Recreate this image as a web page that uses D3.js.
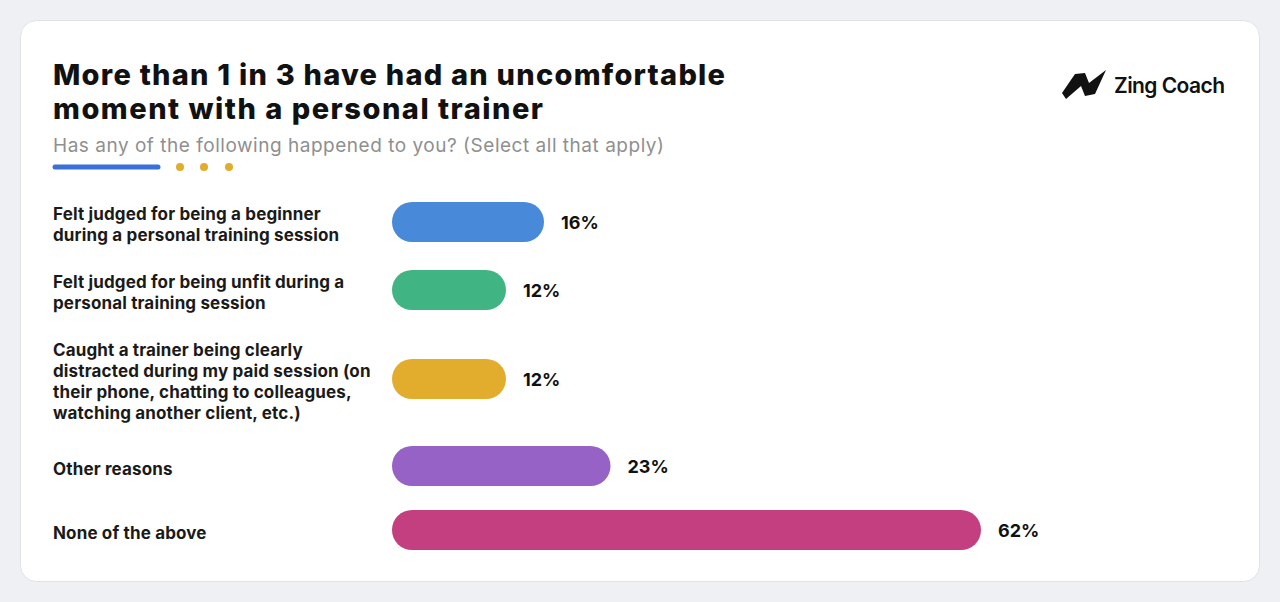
<!DOCTYPE html>
<html>
<head>
<meta charset="utf-8">
<script src="https://cdn.jsdelivr.net/npm/d3@7"></script>
<style>
  body { margin: 0; background: #eef0f4; font-family: Inter, "Noto Sans", sans-serif; }
</style>
</head>
<body>
<div id="chart"></div>
<script>
var categories = [
  ["Felt judged for being a beginner", "during a personal training session"],
  ["Felt judged for being unfit during a", "personal training session"],
  ["Caught a trainer being clearly", "distracted during my paid session (on", "their phone, chatting to colleagues,", "watching another client, etc.)"],
  ["Other reasons"],
  ["None of the above"]
];
var values = [16, 12, 12, 23, 62];
var colors = ["#4889d9", "#40b482", "#e2ac2d", "#9762c5", "#c43f80"];

var width = 1280,
    height = 602,
    barLeft = 392,
    barHeight = 40,
    lineHeight = 21;

var svg = d3.select('#chart').append('svg')
    .attr('width', width)
    .attr('height', height)
    .style('display', 'block');

// card
svg.append('rect')
    .attr('x', 20.5).attr('y', 20.5)
    .attr('width', 1239).attr('height', 561)
    .attr('rx', 16)
    .attr('fill', 'white')
    .attr('stroke', '#dfe2e8');

// title
svg.append('text')
    .attr('x', 53).attr('y', 85)
    .attr('font-size', 29).attr('font-weight', 800)
    .attr('fill', '#111')
    .attr('textLength', 672)
    .text('More than 1 in 3 have had an uncomfortable');
svg.append('text')
    .attr('x', 53).attr('y', 119)
    .attr('font-size', 29).attr('font-weight', 800)
    .attr('fill', '#111')
    .attr('textLength', 490)
    .text('moment with a personal trainer');
svg.append('text')
    .attr('x', 53).attr('y', 152)
    .attr('font-size', 19)
    .attr('fill', '#8f8f8f')
    .attr('textLength', 611)
    .text('Has any of the following happened to you? (Select all that apply)');

// little decoration under subtitle
svg.append('line')
    .attr('x1', 55).attr('x2', 158)
    .attr('y1', 167).attr('y2', 167)
    .attr('stroke', '#3b6fd9').attr('stroke-width', 5)
    .attr('stroke-linecap', 'round');
svg.selectAll('.dot').data([180, 204, 229])
  .enter().append('circle')
    .attr('cx', function(d) { return d; })
    .attr('cy', 167).attr('r', 4)
    .attr('fill', '#e2ac2d');

// logo
svg.append('path')
    .attr('d', 'M1062,93 L1075,74 L1085,73 L1089,83 L1106,70 L1095,94 L1085,96 L1081,86 L1066,99 Z')
    .attr('fill', '#111');
svg.append('text')
    .attr('x', 1114).attr('y', 93)
    .attr('font-size', 21).attr('font-weight', 600)
    .attr('fill', '#111')
    .attr('textLength', 111)
    .text('Zing Coach');

// row layout: taller rows for labels with more lines
var rowH = categories.map(function(c) { return Math.max(64, 26 + c.length * lineHeight); });
var centers = [];
var acc = 188;
rowH.forEach(function(h) { centers.push(acc + h / 2); acc += h; });

var x = d3.scaleLinear().domain([0, 100]).range([barLeft, barLeft + 950]);

var rows = svg.selectAll('.row').data(values)
  .enter().append('g')
    .attr('class', 'row')
    .attr('transform', function(d, i) { return 'translate(0,' + centers[i] + ')'; });

rows.append('rect')
    .attr('x', x(0))
    .attr('y', -barHeight / 2)
    .attr('width', function(d) { return x(d) - x(0); })
    .attr('height', barHeight)
    .attr('rx', barHeight / 2)
    .attr('fill', function(d, i) { return colors[i]; });

rows.append('text')
    .attr('x', function(d) { return x(d) + 17; })
    .attr('y', 1)
    .attr('dy', '0.35em')
    .attr('font-size', 18).attr('font-weight', 700)
    .attr('fill', '#111')
    .text(function(d) { return d + '%'; });

rows.each(function(d, i) {
  var lines = categories[i];
  d3.select(this).selectAll('.lab').data(lines)
    .enter().append('text')
      .attr('x', 53)
      .attr('y', function(l, j) { return 3 + (j - (lines.length - 1) / 2) * lineHeight; })
      .attr('dy', '0.35em')
      .attr('font-size', 17).attr('font-weight', 700)
      .attr('letter-spacing', 0.15)
      .attr('fill', '#1a1a1a')
      .text(function(l) { return l; });
});
</script>
</body>
</html>
